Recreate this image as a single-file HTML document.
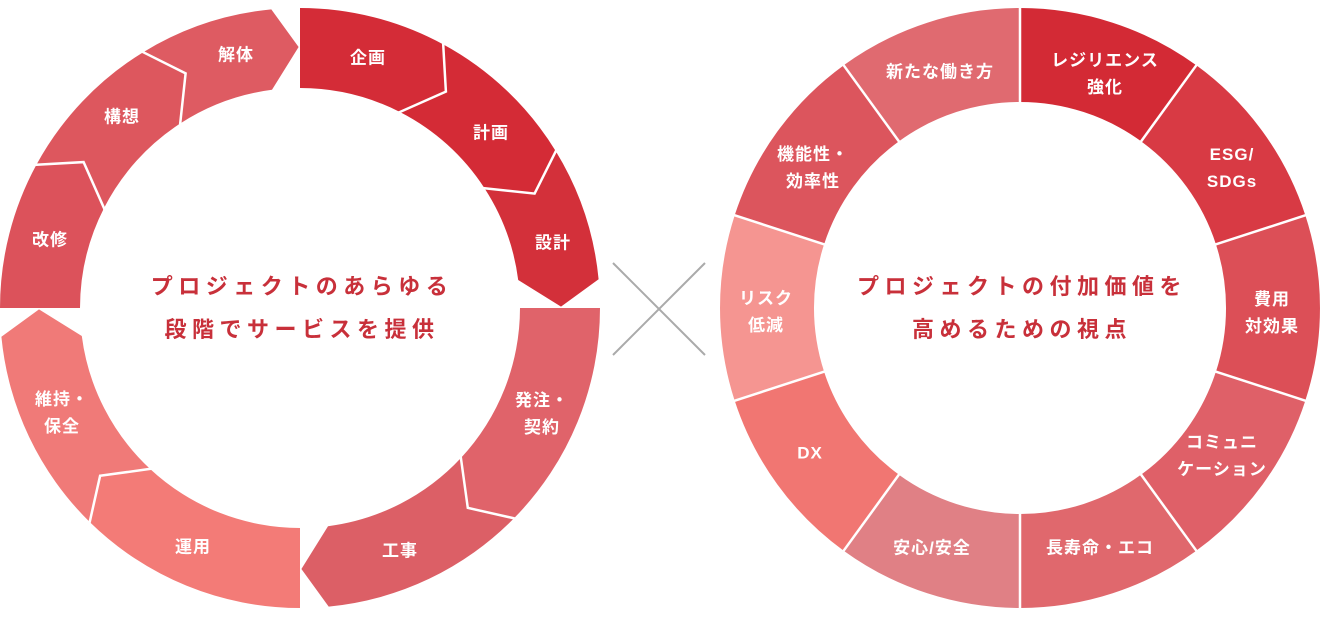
<!DOCTYPE html>
<html><head><meta charset="utf-8"><style>
html,body{margin:0;padding:0;background:#fff;}
body{width:1320px;height:635px;position:relative;overflow:hidden;font-family:"Liberation Sans","Noto Sans CJK JP",sans-serif;}
svg{position:absolute;left:0;top:0;}
.l{position:absolute;color:#fff;font-weight:bold;font-size:17px;line-height:27px;text-align:center;white-space:nowrap;letter-spacing:1px;transform:translate(-50%,-50%);}
.c{position:absolute;color:#c8303a;font-weight:bold;font-size:22px;line-height:43px;text-align:center;white-space:nowrap;letter-spacing:5.5px;transform:translate(-50%,-50%);}
</style></head><body>
<svg width="1320" height="635" viewBox="0 0 1320 635">
<defs>
<g id="q3a"><path d="M300,8 A300,300 0 0 1 443.2,44.4 L445.9,91.6 L399.9,112 A220,220 0 0 0 300,88 Z"/></g>
<g id="q3b"><path d="M443.2,44.4 A300,300 0 0 1 555.8,151.2 L534.6,193.6 L484.5,188.2 A220,220 0 0 0 399.9,112 L445.9,91.6 Z"/></g>
<g id="q3c"><path d="M555.8,151.2 A300,300 0 0 1 598.6,279.3 L561,306.6 L518.2,280 A220,220 0 0 0 484.5,188.2 L534.6,193.6 Z"/></g>
<g id="q2a"><path d="M300,8 A300,300 0 0 1 510.3,94 L499.9,140.2 L450,147.1 A220,220 0 0 0 300,88 Z"/></g>
<g id="q2b"><path d="M510.3,94 A300,300 0 0 1 598.6,279.3 L561,306.6 L518.2,280 A220,220 0 0 0 450,147.1 L499.9,140.2 Z"/></g>
<path id="w" d="M1020,8 A300,300 0 0 1 1196.3,65.3 L1141.1,141.3 A206,206 0 0 0 1020,102 Z"/>
<line id="wl" x1="1020" y1="0" x2="1020" y2="104" stroke="#fff" stroke-width="2.5"/>
</defs>
<use href="#q3a" fill="#d42c37"/>
<use href="#q3b" fill="#d42b36"/>
<use href="#q3c" fill="#d3303a"/>
<g transform="rotate(90 300 308)">
<use href="#q2a" fill="#e0636a"/>
<use href="#q2b" fill="#dc5f66"/>
</g>
<g transform="rotate(180 300 308)">
<use href="#q2a" fill="#f37b77"/>
<use href="#q2b" fill="#f07a78"/>
</g>
<g transform="rotate(270 300 308)">
<use href="#q3a" fill="#dc525b"/>
<use href="#q3b" fill="#dd575e"/>
<use href="#q3c" fill="#de5b62"/>
</g>
<g fill="none" stroke="#fff" stroke-width="2.5" stroke-linejoin="miter">
<polyline points="443.2,40 443.2,44.4 445.9,91.6 399.9,112 397,113"/>
<polyline points="557,149 555.8,151.2 534.6,193.6 484.5,188.2 482,188"/>
<g transform="rotate(90 300 308)"><polyline points="512,92 510.3,94 499.9,140.2 450,147.1 447,147.5"/></g>
<g transform="rotate(180 300 308)"><polyline points="512,92 510.3,94 499.9,140.2 450,147.1 447,147.5"/></g>
<g transform="rotate(270 300 308)">
<polyline points="443.2,40 443.2,44.4 445.9,91.6 399.9,112 397,113"/>
<polyline points="557,149 555.8,151.2 534.6,193.6 484.5,188.2 482,188"/>
</g>
</g>
<line x1="613" y1="263" x2="705" y2="355" stroke="#aaaaaa" stroke-width="2"/>
<line x1="705" y1="263" x2="613" y2="355" stroke="#aaaaaa" stroke-width="2"/>
<use href="#w" fill="#d32a35"/>
<use href="#w" fill="#d83a44" transform="rotate(36 1020 308)"/>
<use href="#w" fill="#dc4f57" transform="rotate(72 1020 308)"/>
<use href="#w" fill="#df6068" transform="rotate(108 1020 308)"/>
<use href="#w" fill="#e0686d" transform="rotate(144 1020 308)"/>
<use href="#w" fill="#e08085" transform="rotate(180 1020 308)"/>
<use href="#w" fill="#f17672" transform="rotate(216 1020 308)"/>
<use href="#w" fill="#f59591" transform="rotate(252 1020 308)"/>
<use href="#w" fill="#dc555d" transform="rotate(288 1020 308)"/>
<use href="#w" fill="#e06a70" transform="rotate(324 1020 308)"/>
<use href="#wl"/>
<use href="#wl" transform="rotate(36 1020 308)"/>
<use href="#wl" transform="rotate(72 1020 308)"/>
<use href="#wl" transform="rotate(108 1020 308)"/>
<use href="#wl" transform="rotate(144 1020 308)"/>
<use href="#wl" transform="rotate(180 1020 308)"/>
<use href="#wl" transform="rotate(216 1020 308)"/>
<use href="#wl" transform="rotate(252 1020 308)"/>
<use href="#wl" transform="rotate(288 1020 308)"/>
<use href="#wl" transform="rotate(324 1020 308)"/>
</svg>

<div class="l" style="left:368px;top:58px">企画</div>
<div class="l" style="left:491px;top:133px">計画</div>
<div class="l" style="left:553px;top:243px">設計</div>
<div class="l" style="left:542px;top:414px">発注・<br>契約</div>
<div class="l" style="left:400px;top:551px">工事</div>
<div class="l" style="left:193px;top:547px">運用</div>
<div class="l" style="left:62px;top:413px">維持・<br>保全</div>
<div class="l" style="left:50px;top:240px">改修</div>
<div class="l" style="left:122px;top:117px">構想</div>
<div class="l" style="left:236px;top:55px">解体</div>

<div class="c" style="left:302px;top:308px">プロジェクトのあらゆる<br>段階でサービスを提供</div>

<div class="l" style="left:940px;top:72px">新たな働き方</div>
<div class="l" style="left:1105px;top:74px">レジリエンス<br>強化</div>
<div class="l" style="left:1232px;top:168px">ESG/<br>SDGs</div>
<div class="l" style="left:1272px;top:313px">費用<br>対効果</div>
<div class="l" style="left:1222px;top:456px">コミュニ<br>ケーション</div>
<div class="l" style="left:1100px;top:548px">長寿命・エコ</div>
<div class="l" style="left:932px;top:548px">安心/安全</div>
<div class="l" style="left:810px;top:453px">DX</div>
<div class="l" style="left:766px;top:312px">リスク<br>低減</div>
<div class="l" style="left:813px;top:168px">機能性・<br>効率性</div>

<div class="c" style="left:1022px;top:308px">プロジェクトの付加価値を<br>高めるための視点</div>
</body></html>
